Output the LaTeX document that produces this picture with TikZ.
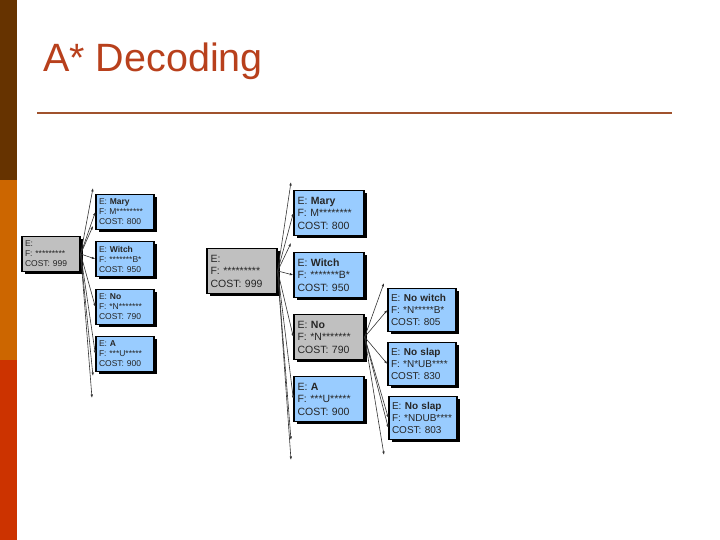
\documentclass[tikz,border=0pt]{standalone}
\usepackage{fontspec}
\setmainfont{Liberation Sans}
\usepackage{xcolor}
\usepackage{tikz}
\usetikzlibrary{arrows.meta,shadows}
\definecolor{BarraMarron}{RGB}{102,51,0}
\definecolor{BarraNaranja}{RGB}{204,102,0}
\definecolor{BarraRoja}{RGB}{204,51,0}
\definecolor{TituloRojo}{RGB}{184,64,28}
\definecolor{LineaTitulo}{RGB}{160,82,45}
\definecolor{AzulHipo}{RGB}{153,204,255}
\definecolor{GrisHipo}{RGB}{192,192,192}
\tikzset{
  hipo/.style={draw=black,line width=1.3pt,fill=AzulHipo,align=left,
    text=black!85,drop shadow={shadow xshift=2.5pt,shadow yshift=-2.5pt,opacity=1,fill=black}},
  hipochica/.style={hipo,text width=52pt,inner sep=3pt,minimum height=35pt,
    font=\fontsize{8.5}{10}\selectfont},
  hipogrande/.style={hipo,text width=63pt,inner sep=3.5pt,minimum height=45pt,
    font=\fontsize{10.5}{12.5}\selectfont},
  hipohija/.style={hipo,text width=62pt,inner sep=3pt,minimum height=43pt,
    font=\fontsize{10}{12}\selectfont},
  abierta/.style={fill=GrisHipo},
  rama/.style={->,line width=0.6pt,black!80}
}

\begin{document}
\begin{tikzpicture}[x=1pt,y=-1pt,>={Latex[length=3.5pt,width=2.5pt]}]
  \useasboundingbox (0,0) rectangle (720,540);
  % franja lateral
  \fill[BarraMarron] (0,0) rectangle (17,180);
  \fill[BarraNaranja] (0,180) rectangle (17,360);
  \fill[BarraRoja] (0,360) rectangle (17,540);
  \node[anchor=base west,inner sep=0pt,text=TituloRojo,font=\fontsize{39.5}{42}\selectfont] (titulo) at (43,72) {A* Decoding};
  \draw[LineaTitulo,line width=2pt] (37,113) -- (672,113);

  % arbol de la izquierda
  \node[hipochica,abierta] (raizA) at (51,254) {E:\\F: *********\\COST: 999};
  \node[hipochica] (maryA) at (125,212) {E: \textbf{Mary}\\F: M********\\COST: 800};
  \node[hipochica] (witchA) at (125,259) {E: \textbf{Witch}\\F: *******B*\\COST: 950};
  \node[hipochica] (noA) at (125,307) {E: \textbf{No}\\F: *N*******\\COST: 790};
  \node[hipochica] (aA) at (125,354) {E: \textbf{A}\\F: ***U*****\\COST: 900};
  \coordinate (arribaA) at (93,188);
  \coordinate (medioA) at (93,226);
  \coordinate (bajoA) at (93,376);
  \coordinate (abajoA) at (92,398);
  \draw[rama] (raizA.east) -- (arribaA);
  \draw[rama] (raizA.east) -- (maryA.west);
  \draw[rama] (raizA.east) -- (medioA);
  \draw[rama] (raizA.east) -- (witchA.west);
  \draw[rama] (raizA.east) -- (noA.west);
  \draw[rama] (raizA.east) -- (aA.west);
  \draw[rama] (raizA.east) -- (bajoA);
  \draw[rama] (raizA.east) -- (abajoA);

  % arbol de la derecha
  \node[hipogrande,abierta] (raizB) at (242,271) {E:\\F: *********\\COST: 999};
  \node[hipogrande] (maryB) at (329,213) {E: \textbf{Mary}\\F: M********\\COST: 800};
  \node[hipogrande] (witchB) at (329,275) {E: \textbf{Witch}\\F: *******B*\\COST: 950};
  \node[hipogrande,abierta] (noB) at (329,337) {E: \textbf{No}\\F: *N*******\\COST: 790};
  \node[hipogrande] (aB) at (329,399) {E: \textbf{A}\\F: ***U*****\\COST: 900};
  \coordinate (arribaB) at (291,182);
  \coordinate (medioB) at (291,243);
  \coordinate (bajoB) at (291,440);
  \coordinate (abajoB) at (291,460);
  \draw[rama] (raizB.east) -- (arribaB);
  \draw[rama] (raizB.east) -- (maryB.west);
  \draw[rama] (raizB.east) -- (medioB);
  \draw[rama] (raizB.east) -- (witchB.west);
  \draw[rama] (raizB.east) -- (noB.west);
  \draw[rama] (raizB.east) -- (aB.west);
  \draw[rama] (raizB.east) -- (bajoB);
  \draw[rama] (raizB.east) -- (abajoB);

  % expansion de "No"
  \node[hipohija] (nowitch) at (422,310) {E: \textbf{No witch}\\F: *N*****B*\\COST: 805};
  \node[hipohija] (noslap) at (422,364) {E: \textbf{No slap}\\F: *N*UB****\\COST: 830};
  \node[hipohija] (nodub) at (423,418) {E: \textbf{No slap}\\F: *NDUB****\\COST: 803};
  \coordinate (arribaC) at (384,283);
  \coordinate (abajoC) at (384,455);
  \draw[rama] (noB.east) -- (arribaC);
  \draw[rama] (noB.east) -- (nowitch.west);
  \draw[rama] (noB.east) -- (noslap.west);
  \draw[rama] (noB.east) -- (nodub.west);
  \draw[rama] (noB.east) -- ([yshift=-10pt]nodub.west);
  \draw[rama] (noB.east) -- (abajoC);
\end{tikzpicture}
\end{document}
